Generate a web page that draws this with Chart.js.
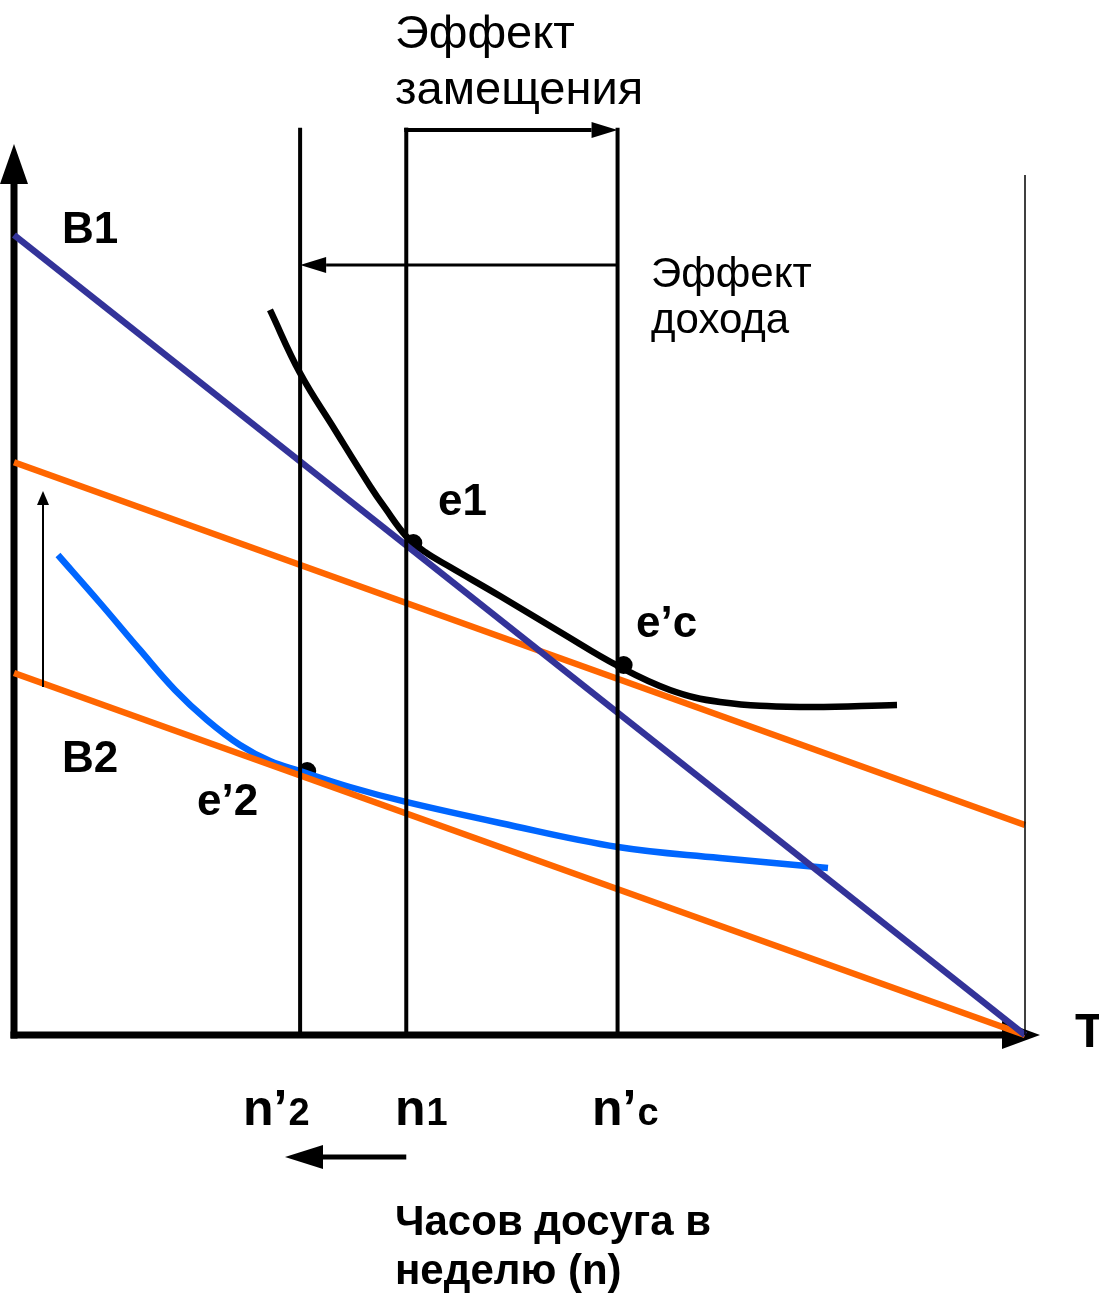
<!DOCTYPE html>
<html>
<head>
<meta charset="utf-8">
<script src="https://cdn.jsdelivr.net/npm/chart.js"></script>
<style>
  html, body { margin: 0; padding: 0; background: #fff; }
  #wrap { width: 1099px; height: 1296px; position: relative; }
</style>
</head>
<body>
<div id="wrap"><canvas id="grafica"></canvas></div>
<script>
// Ejes: x = horas de ocio (0..100 = T), y = ingreso (0..125)
const lineaX = [0, 100];
const b1Y = [100, 0];          // recta presupuestaria B1
const paralelaY = [71.6, 26.25]; // B2 desplazada (efecto sustitución)
const b2Y = [45.25, 0];        // recta presupuestaria B2

// Curva de indiferencia superior (negra)
const curvaAltaX = [25.32, 28.29, 31.75, 35.21, 36.70, 38.77, 40.65, 43.13, 48.07, 54.01, 59.74, 64.89, 69.83, 77.74, 87.34];
const curvaAltaY = [90.63, 82.75, 75.63, 68.63, 65.88, 62.38, 60.38, 58.5, 54.88, 50.38, 46.13, 43.13, 41.63, 41.0, 41.25];

// Curva de indiferencia inferior (azul)
const curvaBajaX = [4.35, 8.51, 12.46, 15.92, 19.09, 22.35, 25.32, 28.29, 33.23, 38.77, 48.07, 59.74, 69.83, 80.51];
const curvaBajaY = [60.0, 54.0, 48.13, 43.13, 39.38, 36.25, 34.25, 33.0, 31.0, 29.13, 26.5, 23.5, 22.13, 20.88];

// Horas de ocio marcadas
const horas = [28.3, 38.8, 59.7];
const etiquetasHoras = [['n’', '2'], ['n', '1'], ['n’', 'c']];
const topeLineas = 113.4;
const lineaT = 100;
const topeT = 107.5;

// Puntos de equilibrio
const puntosX = [39.5, 60.3, 29.0];
const puntosY = [61.5, 46.25, 33.0];

const pares = (xs, ys) => xs.map((x, i) => ({ x: x, y: ys[i] }));

const datasets = [];
horas.forEach(h => {
  datasets.push({ data: [{ x: h, y: 0 }, { x: h, y: topeLineas }], borderColor: '#000', borderWidth: 4 });
});
datasets.push({ data: [{ x: lineaT, y: 0 }, { x: lineaT, y: topeT }], borderColor: '#000', borderWidth: 1.5 });
datasets.push({ data: pares(lineaX, b1Y), borderColor: '#333399', borderWidth: 6.5 });
datasets.push({ data: pares(lineaX, paralelaY), borderColor: '#FF6600', borderWidth: 6.5 });
datasets.push({ data: pares(lineaX, b2Y), borderColor: '#FF6600', borderWidth: 6.5 });
datasets.push({ data: pares(curvaAltaX, curvaAltaY), borderColor: '#000', borderWidth: 6.5, tension: 0.4 });
datasets.push({ data: pares(curvaBajaX, curvaBajaY), borderColor: '#0066FF', borderWidth: 6.5, tension: 0.4 });
datasets.push({ data: pares(puntosX, puntosY), showLine: false, pointRadius: 9, pointBackgroundColor: '#000', pointBorderWidth: 0 });

datasets.forEach(d => {
  d.clip = false;
  if (d.showLine === undefined) { d.showLine = true; d.pointRadius = 0; }
  if (d.tension === undefined) d.tension = 0;
  d.fill = false;
  d.borderCapStyle = 'butt';
  d.borderJoinStyle = 'round';
});

function flecha(c, x1, y1, x2, y2, ancho, largo, medio) {
  c.beginPath();
  c.lineWidth = ancho;
  const ang = Math.atan2(y2 - y1, x2 - x1);
  const bx = x2 - Math.cos(ang) * largo, by = y2 - Math.sin(ang) * largo;
  c.moveTo(x1, y1);
  c.lineTo(bx, by);
  c.stroke();
  c.beginPath();
  c.moveTo(x2, y2);
  c.lineTo(bx + Math.sin(ang) * medio, by - Math.cos(ang) * medio);
  c.lineTo(bx - Math.sin(ang) * medio, by + Math.cos(ang) * medio);
  c.closePath();
  c.fill();
}

const dibujo = {
  id: 'dibujo',
  beforeDatasetsDraw(chart) {
    const c = chart.ctx, sx = chart.scales.x, sy = chart.scales.y;
    const x0 = sx.getPixelForValue(0), y0 = sy.getPixelForValue(0);
    c.save();
    c.strokeStyle = '#000'; c.fillStyle = '#000';
    // ejes
    flecha(c, x0, y0 + 3.5, x0, 144, 7, 40, 14);
    flecha(c, x0 - 3.5, y0, 1040, y0, 7, 38, 14);
    c.restore();
  },
  afterDatasetsDraw(chart) {
    const c = chart.ctx, sx = chart.scales.x, sy = chart.scales.y;
    const px = v => sx.getPixelForValue(v);
    c.save();
    c.strokeStyle = '#000'; c.fillStyle = '#000';
    // efecto sustitución
    c.beginPath(); c.lineWidth = 4;
    c.moveTo(px(horas[1]), sy.getPixelForValue(topeLineas)); c.lineTo(px(horas[1]), 130); c.stroke();
    flecha(c, px(horas[1]) - 2, 130, px(horas[2]), 130, 4, 26, 8);
    // efecto ingreso
    flecha(c, px(horas[2]), 265, px(horas[0]), 265, 3, 26, 8);
    // desplazamiento de la recta
    flecha(c, 43, 687, 43, 491, 2, 14, 6);
    // flecha inferior
    flecha(c, px(horas[1]), 1157, 285, 1157, 5, 38, 12);

    c.textBaseline = 'alphabetic';
    c.textAlign = 'left';
    c.font = '47px "Liberation Sans", Arial, sans-serif';
    c.fillText('Эффект', 395, 48);
    c.fillText('замещения', 395, 104);
    c.font = '42px "Liberation Sans", Arial, sans-serif';
    c.fillText('Эффект', 651, 287);
    c.fillText('дохода', 651, 333);

    c.font = 'bold 44px "Liberation Sans", Arial, sans-serif';
    c.fillText('B1', 62, 243);
    c.fillText('B2', 62, 772);
    c.fillText('e1', 438, 515);
    c.fillText('e’c', 636, 637);
    c.fillText('e’2', 197, 815);
    c.font = 'bold 48px "Liberation Sans", Arial, sans-serif';
    c.fillText('T', 1075, 1047);

    const inicio = [243, 395, 592];
    etiquetasHoras.forEach((et, i) => {
      c.font = 'bold 50px "Liberation Sans", Arial, sans-serif';
      c.fillText(et[0], inicio[i], 1125);
      const w = c.measureText(et[0]).width;
      c.font = 'bold 38px "Liberation Sans", Arial, sans-serif';
      c.fillText(et[1], inicio[i] + w + 1, 1125);
    });

    c.font = 'bold 42px "Liberation Sans", Arial, sans-serif';
    c.fillText('Часов досуга в', 395, 1235);
    c.fillText('неделю (n)', 395, 1284);
    c.restore();
  }
};

new Chart(document.getElementById('grafica').getContext('2d'), {
  type: 'line',
  data: { datasets: datasets },
  options: {
    responsive: true,
    maintainAspectRatio: false,
    animation: false,
    layout: { padding: { left: 14, right: 74, top: 35, bottom: 261 } },
    plugins: { legend: { display: false }, tooltip: { enabled: false } },
    scales: {
      x: { type: 'linear', min: 0, max: 100, display: false },
      y: { type: 'linear', min: 0, max: 125, display: false }
    }
  },
  plugins: [dibujo]
});
</script>
</body>
</html>
